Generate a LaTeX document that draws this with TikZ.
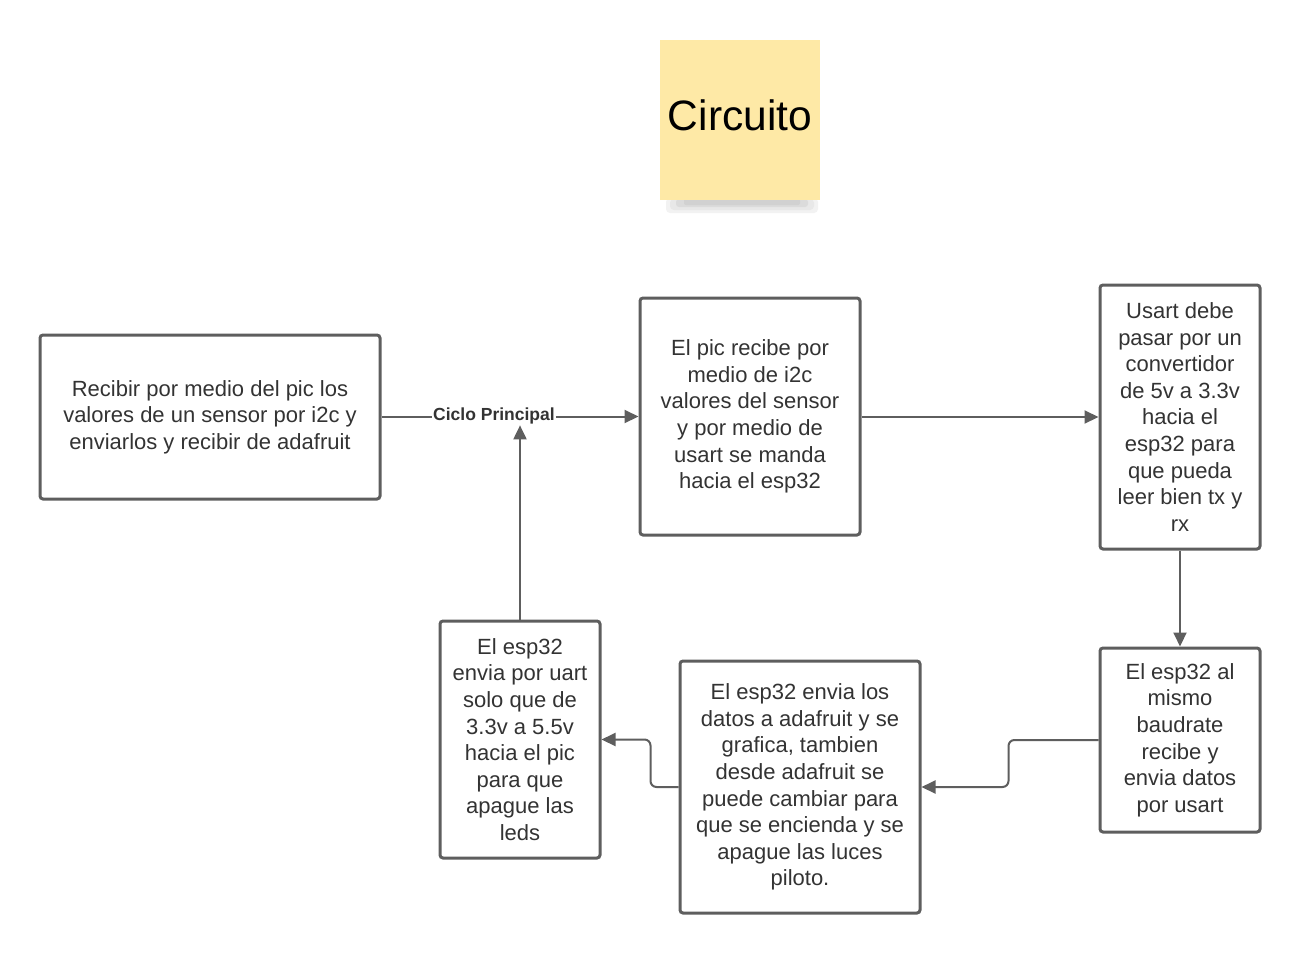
\documentclass[tikz,border=0pt]{standalone}
\usepackage{fontspec}
\setmainfont{Liberation Sans}
\usetikzlibrary{arrows.meta}
\definecolor{linegray}{HTML}{5E5E5E}
\definecolor{textgray}{HTML}{333333}
\definecolor{notefill}{HTML}{FEE9A6}
\tikzset{
  procbox/.style={draw=linegray, line width=3pt, rounded corners=3pt, fill=white,
    inner sep=0pt, align=center, text=textgray,
    font=\fontsize{22}{26.6}\selectfont},
  flecha/.style={draw=linegray, line width=2pt, rounded corners=6pt,
    -{Triangle[length=14pt,width=13pt]}},
}
\begin{document}
\begin{tikzpicture}[x=1pt, y=-1pt]
    \useasboundingbox[fill=white] (0,0) rectangle (1300,953);

    % Nota del titulo
    \fill[black!5, rounded corners=4pt] (666,198) rectangle (818,213);
    \fill[black!9, rounded corners=4pt] (670,199) rectangle (814,210);
    \fill[black!14, rounded corners=3pt] (676,199) rectangle (808,207);
    \fill[black!18, rounded corners=2pt] (684,199) rectangle (800,205);
    \node[fill=notefill, minimum width=160pt, minimum height=160pt, inner sep=0pt,
      text depth=10pt, font=\fontsize{42.5}{50}\selectfont] (titulo) at (740,120) {Circuito};

    % Cajas del ciclo
    \node[procbox, minimum width=340pt, minimum height=164pt] (recibir) at (210,417)
      {Recibir por medio del pic los\\valores de un sensor por i2c y\\enviarlos y recibir de adafruit};
    \node[procbox, minimum width=220pt, minimum height=237pt] (pic) at (750,416.5)
      {El pic recibe por\\medio de i2c\\valores del sensor\\y por medio de\\usart se manda\\hacia el esp32};
    \node[procbox, minimum width=160pt, minimum height=264pt] (usart) at (1180,417)
      {Usart debe\\pasar por un\\convertidor\\de 5v a 3.3v\\hacia el\\esp32 para\\que pueda\\leer bien tx y\\rx};
    \node[procbox, minimum width=160pt, minimum height=184pt] (baud) at (1180,740)
      {El esp32 al\\mismo\\baudrate\\recibe y\\envia datos\\por usart};
    \node[procbox, minimum width=240pt, minimum height=252pt] (ada) at (800,787)
      {El esp32 envia los\\datos a adafruit y se\\grafica, tambien\\desde adafruit se\\puede cambiar para\\que se encienda y se\\apague las luces\\piloto.};
    \node[procbox, minimum width=160pt, minimum height=237pt] (uart) at (520,739.5)
      {El esp32\\envia por uart\\solo que de\\3.3v a 5.5v\\hacia el pic\\para que\\apague las\\leds};

    % Etiqueta del ciclo
    \node[fill=white, inner sep=1pt, text=textgray,
      font=\fontsize{17.5}{20}\selectfont\bfseries] (ciclo) at (494,416) {Ciclo Principal};

    % Flechas
    \draw[draw=linegray, line width=2pt] (recibir.east) -- (ciclo.west |- recibir.east);
    \draw[flecha] (ciclo.east |- pic.west) -- (pic.west);
    \draw[flecha] (pic.east |- usart.west) -- (usart.west);
    \draw[flecha] (usart.south) -- (baud.north);
    \draw[flecha] (baud.west) -- ++(-90,0) |- (ada.east);
    \draw[flecha] (ada.west) -- ++(-28,0) |- (uart.east);
    \draw[flecha] (uart.north) -- (uart.north |- ciclo.south);
\end{tikzpicture}
\end{document}
